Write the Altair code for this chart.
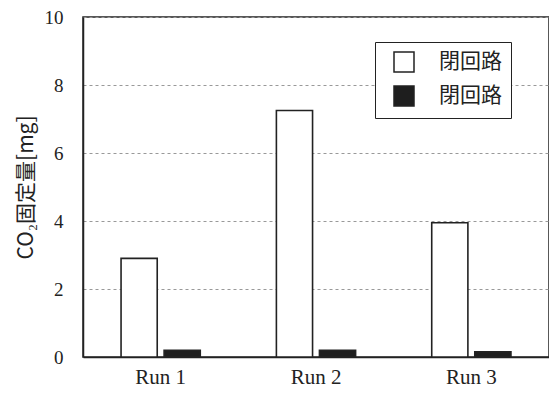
import altair as alt
import pandas as pd

runs = ["Run 1", "Run 2", "Run 3"]
series_keys = ["s1", "s2"]
series_labels = ["閉回路", "閉回路"]
closed_vals = [2.9, 7.25, 3.95]
open_vals = [0.2, 0.2, 0.15]

rows = []
for i, r in enumerate(runs):
    rows.append({"run": r, "series": series_keys[0], "value": closed_vals[i]})
    rows.append({"run": r, "series": series_keys[1], "value": open_vals[i]})
df = pd.DataFrame(rows)

label_expr = f"datum.value == '{series_keys[0]}' ? '{series_labels[0]}' : '{series_labels[1]}'"

serif = "Liberation Serif"
cjk = "Noto Sans CJK JP"

chart = alt.Chart(df).mark_bar(stroke="#222222", strokeWidth=1.6).encode(
    x=alt.X("run:N", sort=runs,
            scale=alt.Scale(paddingInner=0.49, paddingOuter=0.245),
            axis=alt.Axis(title=None, labelAngle=0, labelFont=serif, labelFontSize=21,
                          labelColor="#222", labelBaseline="alphabetic", labelPadding=26,
                          ticks=False, domainColor="#222", domainWidth=1.5)),
    xOffset=alt.XOffset("series:N", sort=series_keys,
                        scale=alt.Scale(paddingInner=0.16, paddingOuter=0)),
    y=alt.Y("value:Q", scale=alt.Scale(domain=[0, 10]),
            axis=alt.Axis(values=[0, 2, 4, 6, 8, 10], title="CO₂固定量[mg]",
                          titleFont=cjk, titleFontSize=21, titleFontWeight="normal",
                          titleColor="#222", titlePadding=8,
                          labelFont=serif, labelFontSize=19, labelColor="#222",
                          labelPadding=20, ticks=False,
                          grid=True, gridDash=[3, 3], gridColor="#999999", gridWidth=1.2,
                          domainColor="#222", domainWidth=1.5)),
    fill=alt.Fill("series:N", sort=series_keys,
                  scale=alt.Scale(domain=series_keys, range=["white", "#1e1e1e"]),
                  legend=alt.Legend(title=None, orient="none", legendX=292, legendY=25,
                                    labelExpr=label_expr, labelFont=cjk, labelFontSize=21,
                                    labelColor="#222", symbolType="square", symbolSize=400,
                                    symbolStrokeColor="#222", symbolStrokeWidth=1.5,
                                    symbolOffset=9,
                                    fillColor="white", strokeColor="#222",
                                    padding=9, rowPadding=8, labelOffset=24)),
).properties(
    width=466, height=340,
    autosize=alt.AutoSizeParams(type="none"),
    padding={"left": 75, "top": 9, "right": 0, "bottom": 31},
).configure_view(
    stroke="#222", strokeWidth=1.5
).configure_axis(
    gridOpacity=1
)

chart.save("out.html", embed_options={"renderer": "svg", "actions": False})
